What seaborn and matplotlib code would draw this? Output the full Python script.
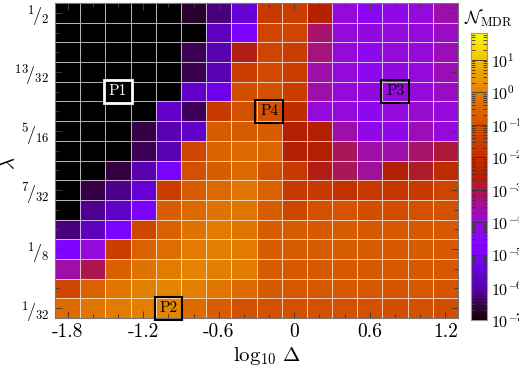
import numpy as np
import pandas as pd
import matplotlib
matplotlib.use('Agg')
import matplotlib.pyplot as plt
import seaborn as sns
from matplotlib.colors import LogNorm
from matplotlib.ticker import LogLocator, NullFormatter

plt.rcParams['font.family'] = ['cmr10', 'DejaVu Serif']
plt.rcParams['mathtext.fontset'] = 'cm'
plt.rcParams['axes.unicode_minus'] = False

# columns: log10 Delta, rows: lambda = n/32 (top row n=16)
log_delta = [-1.8, -1.6, -1.4, -1.2, -1.0, -0.8, -0.6, -0.4,
             -0.2, 0.0, 0.2, 0.4, 0.6, 0.8, 1.0, 1.2]
lam_num = [16, 15, 14, 13, 12, 11, 10, 9, 8, 7, 6, 5, 4, 3, 2, 1]

xtick_vals = [-1.8, -1.2, -0.6, 0.0, 0.6, 1.2]
xtick_labels = ['-1.8', '-1.2', '-0.6', '0', '0.6', '1.2']
ytick_nums = [16, 13, 10, 7, 4, 1]
ytick_labels = [r'$^1\!/_2$', r'$^{13}\!/_{32}$', r'$^5\!/_{16}$',
                r'$^7\!/_{32}$', r'$^1\!/_8$', r'$^1\!/_{32}$']
cb_exps = [-7, -6, -5, -4, -3, -2, -1, 0, 1]

# log10 of N_MDR (B = below the colour range, black)
B = -9.0
log_n = [
    [B, B, B, B, B, -6.75, -6.3, -5.6, -1.6, -1.5, -2.5, -4.0, -4.4, -4.2, -4.0, -3.6],
    [B, B, B, B, B, B, -5.8, -4.9, -1.3, -1.3, -3.2, -4.0, -4.1, -4.0, -4.0, -3.8],
    [B, B, B, B, B, -6.5, -5.9, -2.7, -1.3, -1.5, -3.3, -4.0, -4.3, -4.0, -4.0, -3.7],
    [B, B, B, B, B, -6.55, -5.9, -1.55, -1.2, -1.5, -3.6, -4.0, -4.3, -4.1, -4.0, -3.7],
    [B, B, B, B, B, -5.7, -5.35, -1.1, -1.0, -1.5, -3.6, -4.0, -4.1, -4.0, -4.0, -3.8],
    [B, B, B, B, -5.7, -6.5, -1.6, -1.0, -1.0, -2.0, -4.0, -4.0, -4.3, -4.0, -3.9, -4.0],
    [B, B, B, -6.6, -5.9, -5.7, -0.75, -0.75, -0.75, -2.6, -2.6, -3.6, -4.2, -4.2, -3.7, -4.0],
    [B, B, B, -6.5, -5.9, -1.25, -0.55, -0.45, -0.5, -2.6, -2.6, -3.1, -3.6, -3.6, -3.2, -2.9],
    [B, B, -6.65, -5.9, -5.0, -1.0, -0.7, -0.45, -1.0, -1.65, -2.7, -3.1, -3.5, -2.6, -2.8, -2.1],
    [B, -6.6, -6.2, -5.6, -1.55, -0.7, -0.45, -0.2, -0.6, -1.65, -1.65, -1.9, -1.65, -1.75, -1.65, -1.3],
    [B, -6.15, -5.75, -4.9, -0.7, -0.45, -0.25, -0.2, -0.7, -1.25, -1.0, -0.9, -1.1, -1.1, -1.0, -0.95],
    [-6.3, -5.8, -4.9, -1.25, -0.6, -0.25, -0.1, -0.2, -0.7, -0.75, -0.8, -0.75, -0.8, -0.8, -0.8, -0.8],
    [-4.8, -4.0, -1.55, -0.6, -0.35, -0.1, 0.0, -0.1, -0.7, -0.75, -0.75, -0.7, -0.75, -0.8, -0.75, -0.8],
    [-3.6, -3.0, -0.65, -0.25, -0.1, 0.05, 0.0, -0.1, -0.75, -0.8, -0.8, -0.8, -0.8, -0.85, -0.8, -0.85],
    [-1.3, -0.6, -0.2, 0.0, 0.1, 0.0, -0.2, -0.4, -0.8, -0.85, -0.85, -0.8, -0.85, -0.9, -0.85, -0.9],
    [-0.4, -0.2, -0.1, 0.0, 0.1, -0.4, -0.7, -1.0, -1.0, -1.0, -1.0, -1.0, -1.0, -1.05, -1.0, -1.05],
]

# marked points: label, log10 Delta, lambda numerator
pt_names = ['P1', 'P2', 'P3', 'P4']
pt_delta = [-1.4, -1.0, 0.8, -0.2]
pt_lam = [12, 1, 12, 11]

df = pd.DataFrame(10.0 ** np.array(log_n), index=lam_num, columns=log_delta)

fig = plt.figure(figsize=(5.19, 3.67), dpi=100)
ax = fig.add_axes([55 / 519, 1 - 318 / 367, 403 / 519, 315 / 367])
cax = fig.add_axes([471 / 519, 1 - 320 / 367, 16 / 519, 287 / 367])

sns.heatmap(df, ax=ax, cbar_ax=cax, cmap='gnuplot',
            norm=LogNorm(vmin=1e-7, vmax=10 ** 1.83),
            linewidths=0.7, linecolor=(1, 1, 1, 0.7),
            xticklabels=False, yticklabels=False)

# axis ticks at cell centres
ax.set_xticks([log_delta.index(v) + 0.5 for v in xtick_vals])
ax.set_xticklabels(xtick_labels, fontsize=14)
ax.set_xticks(np.arange(len(log_delta)) + 0.5, minor=True)
ax.set_yticks([lam_num.index(n) + 0.5 for n in ytick_nums])
ax.set_yticklabels(ytick_labels, fontsize=13, rotation=0)
ax.set_yticks(np.arange(len(lam_num)) + 0.5, minor=True)
ax.tick_params(which='both', direction='in', top=True, right=True,
               color='#4a3a2a', width=0.7)
ax.tick_params(which='major', length=5, pad=4)
ax.tick_params(which='minor', length=3)
for s in ax.spines.values():
    s.set_visible(True)
    s.set_color('#777777')
    s.set_linewidth(0.8)

ax.set_xlabel(r'$\log_{10}\,\Delta$', fontsize=15)
ax.xaxis.set_label_coords(0.526, -0.085, transform=ax.transAxes)
ax.xaxis.label.set_va('top')
ax.set_ylabel(r'$\lambda$', fontsize=15)
ax.yaxis.set_label_coords(-0.092, 0.49)

for name, d, n in zip(pt_names, pt_delta, pt_lam):
    xi = log_delta.index(d) + 0.5
    yi = lam_num.index(n) + 0.5
    if name == 'P1':
        ax.text(xi, yi, name, ha='center', va='center', color='white', fontsize=11,
                bbox=dict(boxstyle='square,pad=0.3', fc='black', ec='white', lw=2))
    else:
        ax.text(xi, yi, name, ha='center', va='center', color='black', fontsize=11,
                bbox=dict(boxstyle='square,pad=0.3', fc='none', ec='black', lw=1.5))

# colorbar
cax.yaxis.set_minor_locator(LogLocator(base=10, subs=np.arange(2, 10), numticks=20))
cax.yaxis.set_minor_formatter(NullFormatter())
cax.set_yticks([10.0 ** k for k in cb_exps])
cb_labels = []
for k in cb_exps:
    if k < 0:
        cb_labels.append(r'$10^{\!-\!\!%d}$' % (-k))
    else:
        cb_labels.append(r'$10^{%d}$' % k)
cax.set_yticklabels(cb_labels, fontsize=11.5)
cax.tick_params(which='both', direction='in', left=True, right=True, color='#333333', width=0.6)
cax.tick_params(which='major', length=6, pad=3)
cax.tick_params(which='minor', length=3)
for s in cax.spines.values():
    s.set_visible(True)
    s.set_color('#999999')
fig.text(488 / 519, 1 - 18 / 367, r'$\mathcal{N}_{\mathrm{MDR}}$', ha='center', va='center', fontsize=13)

fig.savefig('out.png', dpi=100)
